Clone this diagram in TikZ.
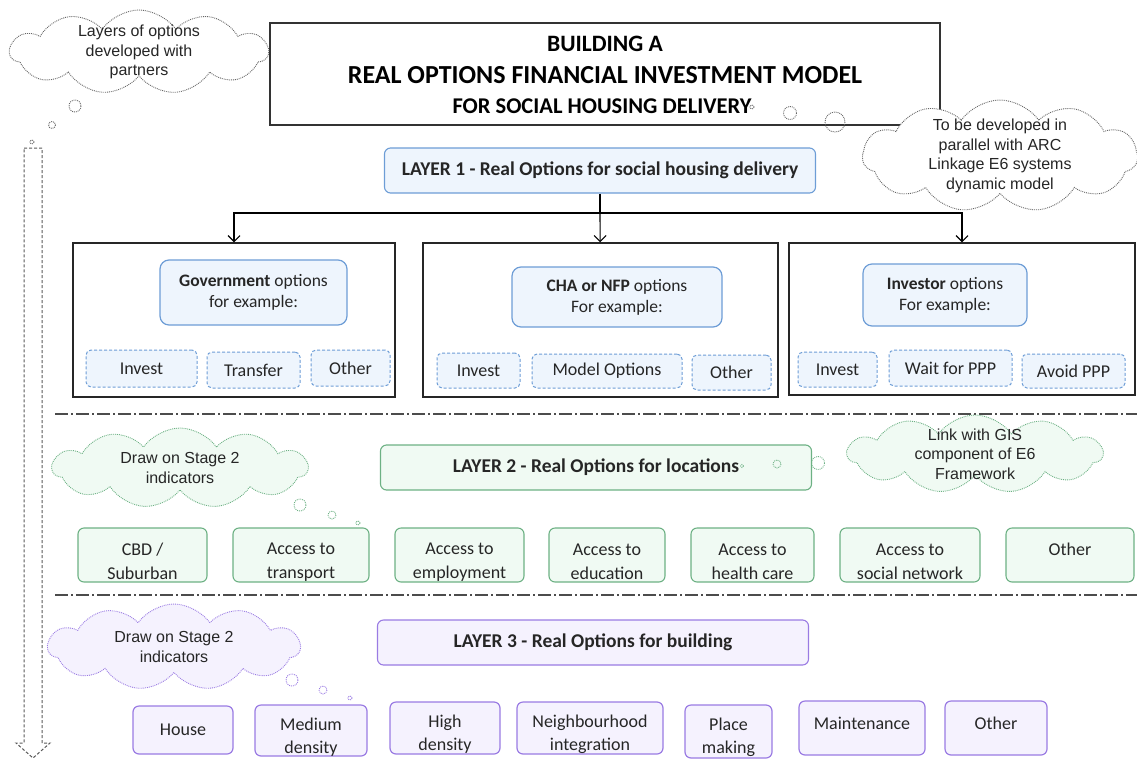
\documentclass[tikz,border=0pt]{standalone}
\usepackage{fontspec}
\setmainfont{Carlito}
\newfontfamily\arialfont{Liberation Sans}
\usetikzlibrary{shapes.symbols,arrows.meta}

\definecolor{blueline}{HTML}{6D9DD6}
\definecolor{bluefill}{HTML}{EEF5FD}
\definecolor{greenline}{HTML}{6DB184}
\definecolor{greenfill}{HTML}{F0FAF3}
\definecolor{purpline}{HTML}{9A7BE3}
\definecolor{purpfill}{HTML}{F5F2FE}
\definecolor{txt}{HTML}{262626}

% extra room above the first line of a box
\newcommand\toppad{\rule{0pt}{25pt}}

\tikzset{
  box/.style={inner sep=0, align=center, text=txt},
  titlebox/.style={box, draw=black!80, line width=1.3pt, text=black,
    minimum width=670, minimum height=102},
  layer/.style={box, rounded corners=6, line width=1.1pt,
    font=\bfseries\fontsize{19.5}{22}\selectfont, minimum width=431, minimum height=45},
  group/.style={box, draw=black!85, line width=1.4pt},
  head/.style={box, draw=blueline, fill=bluefill, rounded corners=9, line width=1.2pt,
    font=\fontsize{17.5}{21}\selectfont},
  bopt/.style={box, draw=blueline, fill=bluefill, densely dashed, rounded corners=5,
    line width=1pt, font=\fontsize{18}{20}\selectfont},
  gopt/.style={box, draw=greenline, fill=greenfill, rounded corners=6, line width=1.1pt,
    minimum height=54, font=\fontsize{18}{24}\selectfont},
  popt/.style={box, draw=purpline, fill=purpfill, rounded corners=6, line width=1.2pt,
    font=\fontsize{18}{23}\selectfont},
  thought/.style={box, cloud, cloud puffs=11, cloud puff arc=110, cloud ignores aspect,
    inner xsep=-6pt, inner ysep=-16pt, densely dotted,
    line width=0.9pt, font=\arialfont\fontsize{16}{19.5}\selectfont},
  sep/.style={draw=black!70, line width=1.3pt, dash pattern=on 13pt off 3pt on 2pt off 3pt},
  bub/.style={densely dotted, line width=0.9pt}
}

\begin{document}
\begin{tikzpicture}[x=1pt, y=-1pt]
\useasboundingbox (0,0) rectangle (1137,758);

% title and notes
\node[titlebox] (title) at (605,74) {};
\node[font=\bfseries\fontsize{23.5}{26}\selectfont] (t1) at (605,44) {BUILDING A};
\node[font=\bfseries\fontsize{26}{30}\selectfont] (t2) at (605,75) {REAL OPTIONS FINANCIAL INVESTMENT MODEL};
\node[font=\bfseries\fontsize{22.5}{26}\selectfont] (t3) at (602,106) {FOR SOCIAL HOUSING DELIVERY};

\node[thought, draw=black!60, fill=white, minimum width=258, minimum height=84]
  (partners) at (139,52) {Layers of options\\developed with\\partners};
\draw[bub, black!60] (75,106) circle (6) (52,125) circle (3.5) (32,142) circle (2);

\node[thought, draw=black!60, fill=white, minimum width=275, minimum height=112]
  (arc) at (1000,156) {To be developed in\\parallel with ARC\\Linkage E6 systems\\dynamic model};
\draw[bub, black!60] (752,107) circle (2) (790,113) circle (6.5) (835,122) circle (10);

% layers arrow
\draw[black!65, line width=1pt, densely dashed]
  (24,148) -- (42,148) -- (42,743) -- (50,743) -- (33,758) -- (16,743) -- (24,743) -- cycle;

% layer 1
\node[layer, draw=blueline, fill=bluefill] (L1) at (600,170.5)
  {LAYER 1 - Real Options for social housing delivery};

\node[group, minimum width=322, minimum height=154] (gov) at (234,320) {};
\node[group, minimum width=355, minimum height=154] (cha) at (600.5,320) {};
\node[group, minimum width=346, minimum height=152] (inv) at (962,319) {};

\coordinate (j) at (600,213);
\draw[line width=1.1pt] (L1) -- (j);
\draw[line width=1.1pt, -{Straight Barb[length=6pt,width=12pt]}] (j) -| (gov);
\draw[line width=1.1pt, -{Straight Barb[length=6pt,width=12pt]}] (j) -- (cha);
\draw[line width=1.1pt, -{Straight Barb[length=6pt,width=12pt]}] (j) -| (inv);

\node[head, minimum width=187, minimum height=65] (govhead) at (253.5,292.5)
  {\textbf{Government} options\\for example:};
\node[bopt, minimum width=111, minimum height=37] (govinv) at (141.5,368.5) {Invest};
\node[bopt, minimum width=93, minimum height=36] (govtra) at (253.5,370) {Transfer};
\node[bopt, minimum width=79, minimum height=36] (govoth) at (350.5,368) {Other};

\node[head, minimum width=210, minimum height=60] (chahead) at (617,297)
  {\textbf{CHA or NFP} options\\For example:};
\node[bopt, minimum width=83, minimum height=35] (chainv) at (478.5,370.5) {Invest};
\node[bopt, minimum width=150, minimum height=34] (chamod) at (607,371) {Model Options};
\node[bopt, minimum width=79, minimum height=35] (chaoth) at (731.5,372.5) {Other};

\node[head, minimum width=164, minimum height=62] (invhead) at (945,295)
  {\textbf{Investor} options\\For example:};
\node[bopt, minimum width=79, minimum height=35] (invinv) at (837.5,369.5) {Invest};
\node[bopt, minimum width=123, minimum height=36] (invwait) at (950.5,368) {Wait for PPP};
\node[bopt, minimum width=103, minimum height=34] (invavoid) at (1073.5,371) {Avoid PPP};

\coordinate (s1a) at (55,414);
\coordinate (s1b) at (1137,414);
\draw[sep] (s1a) -- (s1b);

% layer 2
\node[layer, draw=greenline, fill=greenfill] (L2) at (596,467.5)
  {LAYER 2 - Real Options for locations};
\node[thought, draw=greenline, fill=greenfill, minimum width=255, minimum height=80]
  (stage2a) at (180,468) {Draw on Stage 2\\indicators};
\draw[bub, greenline] (300,505) circle (6) (332,515) circle (4) (358,523) circle (2);
\node[thought, draw=greenline, fill=greenfill, minimum width=255, minimum height=78]
  (gis) at (975,454) {Link with GIS\\component of E6\\Framework};
\draw[bub, greenline] (742,466) circle (1.5) (777,464) circle (4) (818,463) circle (6.5);

\node[gopt, minimum width=129] (cbd) at (142.5,555) {\toppad CBD /\\Suburban};
\node[gopt, minimum width=136] (trans) at (301,555) {\toppad Access to\\transport};
\node[gopt, minimum width=129] (emp) at (459.5,555) {\toppad Access to\\employment};
\node[gopt, minimum width=116] (edu) at (607,555) {\toppad Access to\\education};
\node[gopt, minimum width=123] (health) at (752.5,555) {\toppad Access to\\health care};
\node[gopt, minimum width=140] (social) at (910,555) {\toppad Access to\\social network};
\node[gopt, minimum width=128] (locoth) at (1070,555) {\toppad Other\\\mbox{}};

\coordinate (s2a) at (55,595);
\coordinate (s2b) at (1137,595);
\draw[sep] (s2a) -- (s2b);

% layer 3
\node[layer, draw=purpline, fill=purpfill] (L3) at (593,642.5)
  {LAYER 3 - Real Options for building};
\node[thought, draw=purpline, fill=purpfill, minimum width=252, minimum height=86]
  (stage2b) at (174,647) {Draw on Stage 2\\indicators};
\draw[bub, purpline] (292,680) circle (6) (323,690) circle (4) (350,698) circle (2);

\node[popt, minimum width=100, minimum height=48] (house) at (183,730) {House};
\node[popt, minimum width=112, minimum height=51] (medium) at (311,730.5) {\toppad Medium\\density};
\node[popt, minimum width=110, minimum height=52] (high) at (445,728) {\toppad High\\density};
\node[popt, minimum width=146, minimum height=52] (neigh) at (590,728) {\toppad Neighbourhood\\integration};
\node[popt, minimum width=87, minimum height=53] (place) at (728.5,731.5) {\toppad Place\\making};
\node[popt, minimum width=126, minimum height=54] (maint) at (862,728) {\toppad Maintenance\\\mbox{}};
\node[popt, minimum width=102, minimum height=54] (bldoth) at (996,728) {\toppad Other\\\mbox{}};
\end{tikzpicture}
\end{document}
